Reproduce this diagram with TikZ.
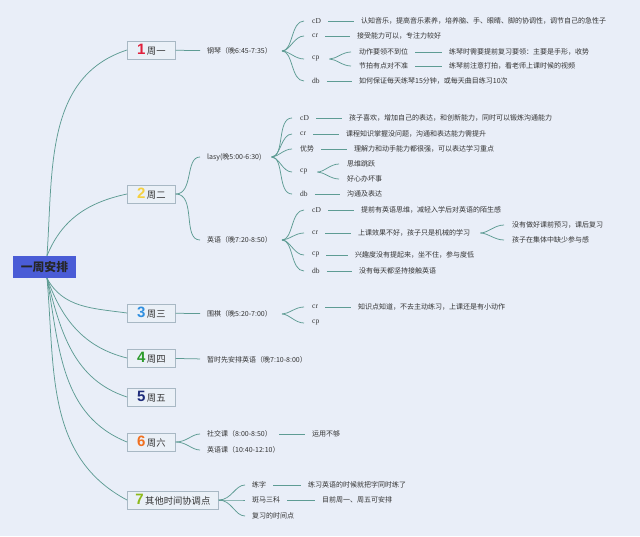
\documentclass[tikz,border=0pt]{standalone}
\usepackage{fontspec}
\setmainfont{Liberation Serif}
\newfontfamily\cjk{Noto Sans CJK SC}
\newfontfamily\numsans{Liberation Sans}
\usetikzlibrary{positioning, calc}

\definecolor{bgblue}{HTML}{E9EEF8}
\definecolor{linegreen}{HTML}{5E9C94}
\definecolor{boxfill}{HTML}{EAF0F7}
\definecolor{boxline}{HTML}{A8B8C4}
\definecolor{rootblue}{HTML}{4A5CD6}
\definecolor{textgray}{HTML}{333333}
\definecolor{n1}{HTML}{E0203C}
\definecolor{n2}{HTML}{F5D040}
\definecolor{n3}{HTML}{2F8FE0}
\definecolor{n4}{HTML}{2A9A2A}
\definecolor{n5}{HTML}{1E2C7A}
\definecolor{n6}{HTML}{F07020}
\definecolor{n7}{HTML}{8DBA1A}

\newcommand{\wnum}[2]{{\numsans\bfseries\fontsize{15}{15}\selectfont\color{#1}#2}\,}

\tikzset{
    week/.style={draw=boxline, fill=boxfill, line width=0.7pt, minimum height=18pt,
        minimum width=48pt, inner xsep=8pt, anchor=west, text=textgray,
        font=\cjk\fontsize{9.3}{10}\selectfont},
    txt/.style={anchor=west, inner xsep=4pt, inner ysep=1pt, text=textgray,
        font=\cjk\fontsize{7}{8}\selectfont},
    tag/.style={anchor=west, inner xsep=4pt, inner ysep=1pt, text=textgray,
        font=\fontsize{7.5}{8}\selectfont},
    trunk/.style={draw=linegreen, line width=0.75pt},
    branch/.style={trunk, shorten >=3pt},
    bar/.style={trunk, shorten <=3pt, shorten >=3pt},
    fan/.style={trunk, shorten <=6pt, shorten >=4pt},
}

\begin{document}
\begin{tikzpicture}[x=1pt, y=-1pt]
    \useasboundingbox (0,0) rectangle (640,536);
    \fill[bgblue] (0,0) rectangle (640,536);

    % centre and days
    \node[fill=rootblue, minimum height=22pt, inner xsep=8pt, text=black!85,
        font=\cjk\bfseries\fontsize{11.8}{12}\selectfont] (root) at (44.5,267) {一周安排};
    \foreach \n/\c/\lbl/\y in {1/n1/周一/50, 2/n2/周二/194, 3/n3/周三/313, 4/n4/周四/358,
        5/n5/周五/397, 6/n6/周六/442, 7/n7/其他时间协调点/500}
        \node[week] (w\n) at (127,\y) {\wnum{\c}{\n}\lbl};
    \foreach \n/\o/\i in {1/86/198, 2/68/192}
        \draw[trunk] ([xshift=2.5pt]root.north) to[out=\o,in=\i] (w\n.west);
    \foreach \n/\o/\i in {3/-62/172, 4/-70/166, 5/-76/162, 6/-80/158, 7/-85/152}
        \draw[trunk] ([xshift=2.5pt]root.south) to[out=\o,in=\i] (w\n.west);

    % Monday
    \node[txt] (gq) at (203,51) {钢琴（晚6:45-7:35）};
    \path[branch] (w1) edge (gq);
    \node[tag] (m1cd) at (308,21) {cD};
    \node[txt] (m1cdt) at (357,21) {认知音乐，提高音乐素养，培养脑、手、眼睛、脚的协调性，调节自己的急性子};
    \node[tag] (m1cr) at (308,36) {cr};
    \node[txt] (m1crt) at (353,36) {接受能力可以，专注力较好};
    \node[tag] (m1cp) at (308,59) {cp};
    \node[txt] (m1cpa) at (355,52) {动作要领不到位};
    \node[txt] (m1cpat) at (445,52) {练琴时需要提前复习要领：主要是手形，收势};
    \node[txt] (m1cpb) at (355,66) {节拍有点对不准};
    \node[txt] (m1cpbt) at (445,66) {练琴前注意打拍，看老师上课时候的视频};
    \node[tag] (m1db) at (308,81) {db};
    \node[txt] (m1dbt) at (355,81) {如何保证每天练琴15分钟，或每天曲目练习10次};
    \foreach \t in {m1cd, m1cr, m1cp, m1db}
        \draw[fan] (gq.east) to[out=0,in=180] (\t.west);
    \foreach \t in {m1cpa, m1cpb}
        \draw[fan] (m1cp.east) to[out=0,in=180] (\t.west);
    \path[bar] (m1cd) edge (m1cdt) (m1cr) edge (m1crt) (m1db) edge (m1dbt)
        (m1cpa) edge (m1cpat) (m1cpb) edge (m1cpbt);

    % Tuesday
    \node[txt] (lasy) at (203,157) {lasy(晚5:00-6:30)};
    \node[txt] (yy) at (203,240) {英语（晚7:20-8:50）};
    \foreach \t in {lasy, yy}
        \draw[branch] (w2.east) to[out=0,in=180] (\t.west);
    \node[tag] (l2cd) at (296,118) {cD};
    \node[txt] (l2cdt) at (345,118) {孩子喜欢，增加自己的表达，和创新能力，同时可以锻炼沟通能力};
    \node[tag] (l2cr) at (296,134) {cr};
    \node[txt] (l2crt) at (342,134) {课程知识掌握没问题，沟通和表达能力需提升};
    \node[txt] (l2ys) at (296,149) {优势};
    \node[txt] (l2yst) at (350,149) {理解力和动手能力都很强，可以表达学习重点};
    \node[tag] (l2cp) at (296,172) {cp};
    \node[txt] (l2cpa) at (343,164) {思维跳跃};
    \node[txt] (l2cpb) at (343,179) {好心办坏事};
    \node[tag] (l2db) at (296,194) {db};
    \node[txt] (l2dbt) at (343,194) {沟通及表达};
    \foreach \t in {l2cd, l2cr, l2ys, l2cp, l2db}
        \draw[fan] (lasy.east) to[out=0,in=180] (\t.west);
    \foreach \t in {l2cpa, l2cpb}
        \draw[fan] (l2cp.east) to[out=0,in=180] (\t.west);
    \path[bar] (l2cd) edge (l2cdt) (l2cr) edge (l2crt) (l2ys) edge (l2yst) (l2db) edge (l2dbt);

    \node[tag] (e2cd) at (308,210) {cD};
    \node[txt] (e2cdt) at (357,210) {提前有英语思维，减轻入学后对英语的陌生感};
    \node[tag] (e2cr) at (308,233) {cr};
    \node[txt] (e2crt) at (354,233) {上课效果不好，孩子只是机械的学习};
    \node[txt] (e2cra) at (508,225) {没有做好课前预习，课后复习};
    \node[txt] (e2crb) at (508,240) {孩子在集体中缺少参与感};
    \node[tag] (e2cp) at (308,255) {cp};
    \node[txt] (e2cpt) at (351,255) {兴趣度没有提起来，坐不住，参与度低};
    \node[tag] (e2db) at (308,271) {db};
    \node[txt] (e2dbt) at (355,271) {没有每天都坚持接触英语};
    \foreach \t in {e2cd, e2cr, e2cp, e2db}
        \draw[fan] (yy.east) to[out=0,in=180] (\t.west);
    \foreach \t in {e2cra, e2crb}
        \draw[fan] (e2crt.east) to[out=0,in=180] (\t.west);
    \path[bar] (e2cd) edge (e2cdt) (e2cr) edge (e2crt) (e2cp) edge (e2cpt) (e2db) edge (e2dbt);

    % Wednesday, Thursday
    \node[txt] (wq) at (203,314) {围棋（晚5:20-7:00）};
    \path[branch] (w3) edge (wq);
    \node[tag] (w3cr) at (308,307) {cr};
    \node[txt] (w3crt) at (354,307) {知识点知道，不去主动练习，上课还是有小动作};
    \node[tag] (w3cp) at (308,323) {cp};
    \foreach \t in {w3cr, w3cp}
        \draw[fan] (wq.east) to[out=0,in=180] (\t.west);
    \path[bar] (w3cr) edge (w3crt);

    \node[txt] (zs) at (203,360) {暂时先安排英语（晚7:10-8:00）};
    \path[branch] (w4) edge (zs);

    % Saturday
    \node[txt] (sj) at (203,434) {社交课（8:00-8:50）};
    \node[txt] (sjt) at (308,434) {运用不够};
    \node[txt] (yk) at (203,450) {英语课（10:40-12:10）};
    \foreach \t in {sj, yk}
        \draw[branch] (w6.east) to[out=0,in=180] (\t.west);
    \path[bar] (sj) edge (sjt);

    % other times
    \node[txt] (lz) at (248,485) {练字};
    \node[txt] (lzt) at (304,485) {练习英语的时候就把字同时练了};
    \node[txt] (bm) at (248,500) {斑马三科};
    \node[txt] (bmt) at (318,500) {目前周一、周五可安排};
    \node[txt] (fx) at (248,516) {复习的时间点};
    \foreach \t in {lz, bm, fx}
        \draw[branch] (w7.east) to[out=0,in=180] (\t.west);
    \path[bar] (lz) edge (lzt) (bm) edge (bmt);
\end{tikzpicture}
\end{document}
